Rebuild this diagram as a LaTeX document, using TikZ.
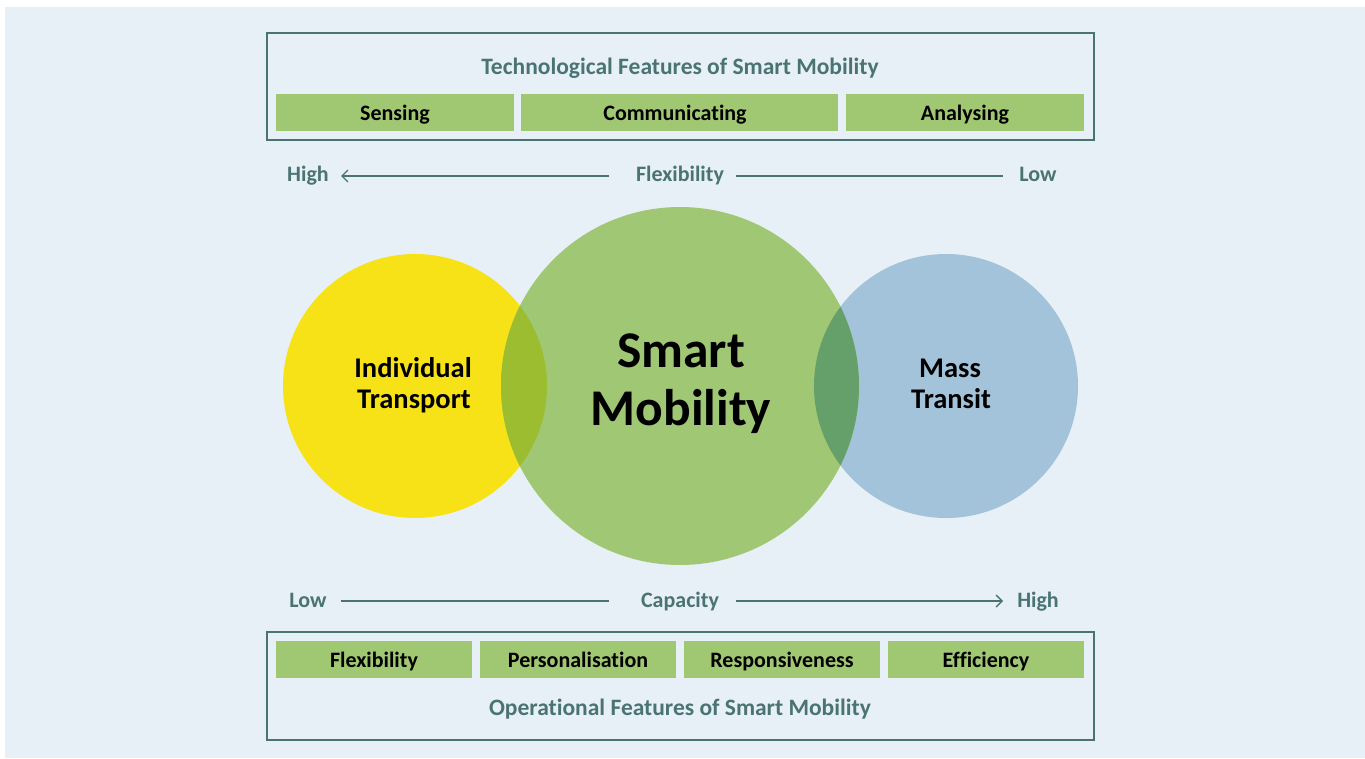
\documentclass[tikz,border=0pt]{standalone}
\usepackage{fontspec}
\setmainfont{Carlito}[Ligatures=NoCommon]
\usetikzlibrary{arrows.meta}
\definecolor{bgblue}{HTML}{E8F0F7}
\definecolor{teal}{HTML}{4A7373}
\definecolor{bargreen}{HTML}{A0C873}
\definecolor{cyellow}{HTML}{F7E217}
\definecolor{cgreen}{HTML}{A0C874}
\definecolor{cblue}{HTML}{A2C3D9}
\definecolor{ovyg}{HTML}{9BBD2F}
\definecolor{ovgb}{HTML}{65A06B}
\tikzset{
  frame/.style={draw=teal,line width=1.5pt},
  bar/.style={fill=bargreen,draw=none,inner sep=0pt},
  bartext/.style={font=\fontsize{22}{26}\selectfont\bfseries,text=black,inner sep=0pt,anchor=base},
  ttl/.style={font=\fontsize{23.5}{28}\selectfont\bfseries,text=teal,inner sep=0pt,anchor=base},
  axlbl/.style={font=\fontsize{22}{26}\selectfont\bfseries,text=teal,inner sep=0pt,anchor=base},
  axline/.style={draw=teal,line width=1.5pt},
  axarrow/.style={axline,-{Straight Barb[length=6pt,width=12pt,line width=1.3pt]}},
  circtext/.style={font=\fontsize{28.5}{31}\selectfont\bfseries,text=black,inner sep=0pt,anchor=base},
  bigtext/.style={font=\fontsize{51.5}{58}\selectfont\bfseries,text=black,inner sep=0pt,anchor=base},
}
\begin{document}
\begin{tikzpicture}[x=1pt,y=-1pt]
\useasboundingbox (0,0) rectangle (1365,758);
\fill[bgblue] (5,7) rectangle (1365,758);
% top box
\draw[frame] (267,33) rectangle (1094,140);
\node[ttl] (toptitle) at (680,74) {Technological Features of Smart Mobility};
\node[bar,minimum width=238pt,minimum height=37pt] (sensing) at (395,112.5) {};
\node[bar,minimum width=317pt,minimum height=37pt] (comm) at (679.5,112.5) {};
\node[bar,minimum width=238pt,minimum height=37pt] (anal) at (965,112.5) {};
\node[bartext] (sensingT) at (395,120) {Sensing};
\node[bartext] (commT) at (675,120) {Communicating};
\node[bartext] (analT) at (965,120) {Analysing};
% flexibility axis
\node[axlbl] (fhigh) at (308,181) {High};
\node[axlbl] (flex) at (680,181) {Flexibility};
\node[axlbl] (flow) at (1038,181) {Low};
\coordinate (fa1) at (609,176);
\coordinate (fa2) at (341,176);
\coordinate (fb1) at (736,176);
\coordinate (fb2) at (1003,176);
\draw[axarrow] (fa1) -- (fa2);
\draw[axline] (fb1) -- (fb2);
% circles
\coordinate (cy) at (415,386);
\coordinate (cg) at (680,386);
\coordinate (cb) at (946,386);
\fill[cyellow] (cy) circle (132);
\fill[cblue] (cb) circle (132);
\fill[cgreen] (cg) circle (179);
\begin{scope}
  \clip (cy) circle (132);
  \fill[ovyg] (cg) circle (179);
\end{scope}
\begin{scope}
  \clip (cb) circle (132);
  \fill[ovgb] (cg) circle (179);
\end{scope}
\node[circtext] (indiv1) at (413,377) {Individual};
\node[circtext] (indiv2) at (414,408) {Transport};
\node[circtext] (mass1) at (950,377) {Mass};
\node[circtext] (mass2) at (951,408) {Transit};
\node[bigtext] (smart1) at (681,367) {Smart};
\node[bigtext] (smart2) at (681,425) {Mobility};
% capacity axis
\node[axlbl] (clow) at (308,607) {Low};
\node[axlbl] (cap) at (680,607) {Capacity};
\node[axlbl] (chigh) at (1038,607) {High};
\coordinate (ca1) at (341,601);
\coordinate (ca2) at (609,601);
\coordinate (cb1) at (736,601);
\coordinate (cb2) at (1003,601);
\draw[axline] (ca1) -- (ca2);
\draw[axarrow] (cb1) -- (cb2);
% bottom box
\draw[frame] (267,632) rectangle (1094,740);
\node[bar,minimum width=196pt,minimum height=37pt] (b1) at (374,659.5) {};
\node[bar,minimum width=196pt,minimum height=37pt] (b2) at (578,659.5) {};
\node[bar,minimum width=196pt,minimum height=37pt] (b3) at (782,659.5) {};
\node[bar,minimum width=196pt,minimum height=37pt] (b4) at (986,659.5) {};
\node[bartext] (b1T) at (374,667) {Flexibility};
\node[bartext] (b2T) at (578,667) {Personalisation};
\node[bartext] (b3T) at (782,667) {Responsiveness};
\node[bartext] (b4T) at (986,667) {Efficiency};
\node[ttl] (bottitle) at (680,715) {Operational Features of Smart Mobility};
\end{tikzpicture}
\end{document}
